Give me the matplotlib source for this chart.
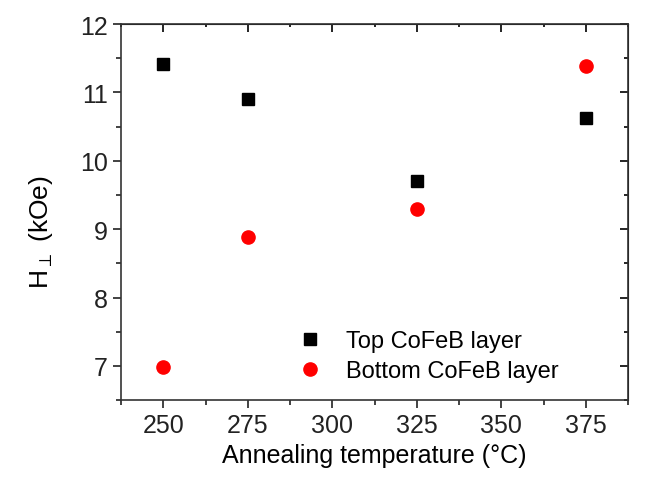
import numpy as np
import matplotlib.pyplot as plt
from matplotlib.ticker import MultipleLocator

plt.rcParams['font.family'] = ['Liberation Sans', 'DejaVu Sans']
plt.rcParams['mathtext.fontset'] = 'dejavusans'

# -----------------------
# Data
# -----------------------
x_ticks = [250, 275, 300, 325, 350, 375]
x_top = [250, 275, 325, 375]
h_top = [11.41, 10.90, 9.71, 10.62]
x_bottom = [250, 275, 325, 375]
h_bottom = [6.98, 8.88, 9.29, 11.39]

fig = plt.figure(figsize=(6.47, 4.81), dpi=100)
ax = fig.add_axes([0.187, 0.166, 0.784, 0.782])

ax.plot(x_top, h_top, 's', color='black', markersize=8.5, linestyle='none',
        label='Top CoFeB layer')
ax.plot(x_bottom, h_bottom, 'o', color='red', markersize=9.5, linestyle='none',
        label='Bottom CoFeB layer')

ax.set_xlim(237.5, 387.5)
ax.set_ylim(6.5, 12)
ax.set_xticks(x_ticks)
ax.xaxis.set_minor_locator(MultipleLocator(12.5))
ax.yaxis.set_major_locator(MultipleLocator(1))
ax.yaxis.set_minor_locator(MultipleLocator(0.5))

ax.tick_params(which='both', direction='out', labelsize=18, width=1.2,
               top=False, right=False, colors='#222222')
ax.tick_params(which='major', length=6)
ax.tick_params(which='minor', length=3.5)

# mirrored axes with inward ticks, as in the source
top = ax.secondary_xaxis('top')
top.set_xticks(x_ticks)
top.xaxis.set_minor_locator(MultipleLocator(12.5))
top.tick_params(which='both', direction='in', labeltop=False, width=1.2)
top.tick_params(which='major', length=6)
top.tick_params(which='minor', length=2)
right = ax.secondary_yaxis('right')
right.yaxis.set_major_locator(MultipleLocator(1))
right.yaxis.set_minor_locator(MultipleLocator(0.5))
right.tick_params(which='both', direction='in', labelright=False, width=1.2)
right.tick_params(which='major', length=6)
right.tick_params(which='minor', length=3)

for sp in ax.spines.values():
    sp.set_linewidth(1.2)
    sp.set_color('#333333')

ax.set_ylabel(r'H$_{\perp}$ (kOe)', fontsize=19)
ax.yaxis.set_label_coords(-0.13, 0.45)
ax.set_xlabel(u'Annealing temperature (\u00b0C)', fontsize=18)

ax.legend(loc='upper left', bbox_to_anchor=(0.285, 0.243), frameon=False,
          fontsize=17, handletextpad=0.5, labelspacing=0.35, markerscale=1.0)

fig.savefig('out.png', dpi=100)
